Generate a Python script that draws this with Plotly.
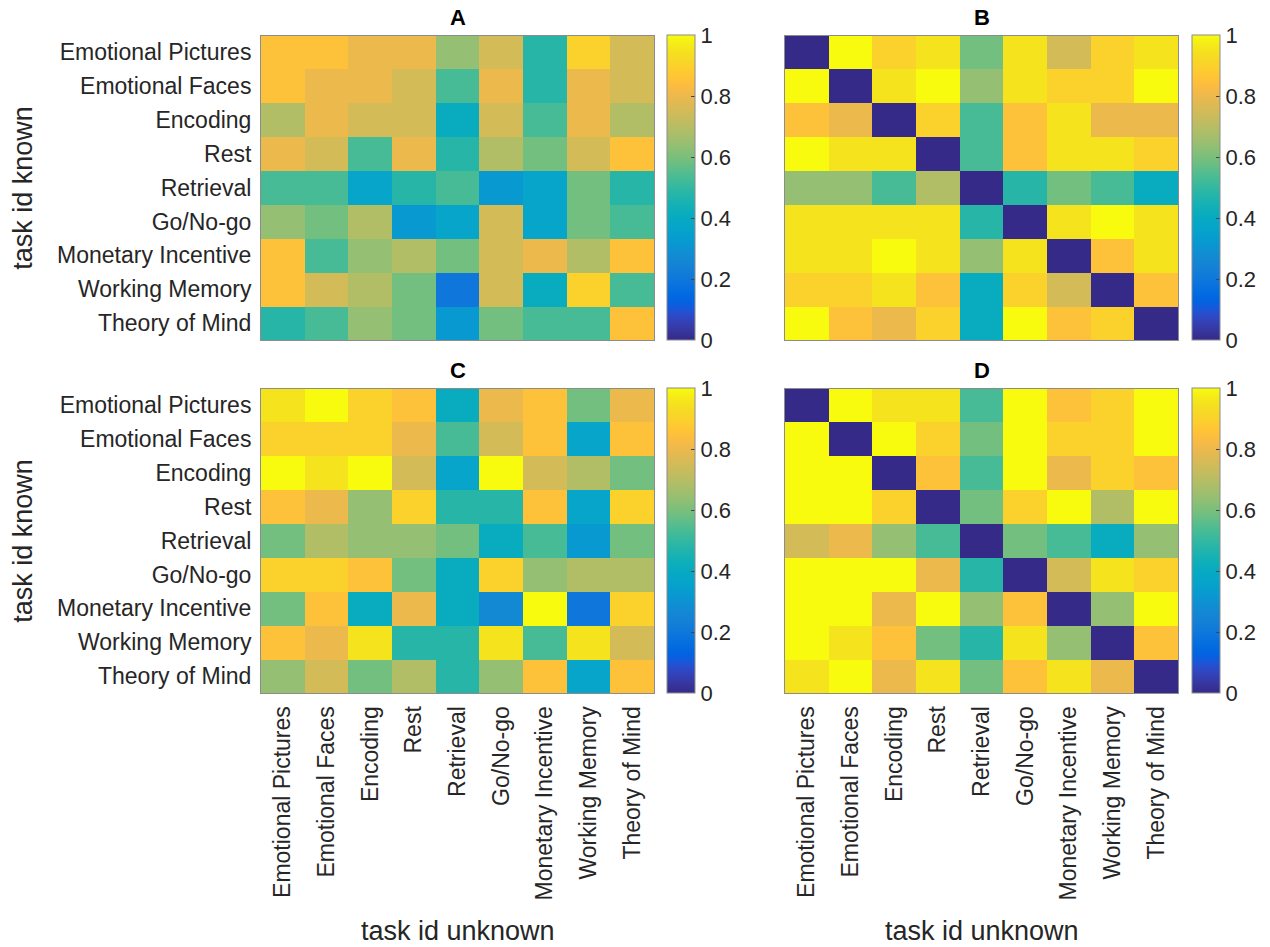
import plotly.graph_objects as go

tasks = ["Emotional Pictures", "Emotional Faces", "Encoding", "Rest", "Retrieval",
         "Go/No-go", "Monetary Incentive", "Working Memory", "Theory of Mind"]

# rows: task id known (top to bottom), columns: task id unknown (left to right)
panel_A = [
    [0.85, 0.85, 0.80, 0.80, 0.64, 0.75, 0.48, 0.90, 0.75],
    [0.85, 0.80, 0.80, 0.75, 0.53, 0.80, 0.48, 0.80, 0.75],
    [0.69, 0.80, 0.75, 0.75, 0.41, 0.75, 0.53, 0.80, 0.69],
    [0.80, 0.75, 0.53, 0.80, 0.48, 0.69, 0.59, 0.75, 0.85],
    [0.53, 0.53, 0.37, 0.48, 0.53, 0.32, 0.37, 0.59, 0.48],
    [0.64, 0.59, 0.69, 0.32, 0.37, 0.75, 0.37, 0.59, 0.53],
    [0.85, 0.53, 0.64, 0.69, 0.59, 0.75, 0.80, 0.69, 0.85],
    [0.85, 0.75, 0.69, 0.59, 0.20, 0.75, 0.41, 0.90, 0.53],
    [0.48, 0.53, 0.64, 0.59, 0.32, 0.59, 0.53, 0.53, 0.85],
]
panel_B = [
    [0.00, 1.00, 0.90, 0.95, 0.59, 0.95, 0.75, 0.90, 0.95],
    [1.00, 0.00, 0.95, 1.00, 0.64, 0.95, 0.90, 0.90, 1.00],
    [0.85, 0.80, 0.00, 0.90, 0.53, 0.85, 0.95, 0.80, 0.80],
    [1.00, 0.95, 0.95, 0.00, 0.53, 0.85, 0.95, 0.95, 0.90],
    [0.64, 0.64, 0.53, 0.69, 0.00, 0.48, 0.59, 0.53, 0.41],
    [0.95, 0.95, 0.95, 0.95, 0.48, 0.00, 0.95, 1.00, 0.95],
    [0.95, 0.95, 1.00, 0.95, 0.64, 0.95, 0.00, 0.85, 0.95],
    [0.90, 0.90, 0.95, 0.85, 0.41, 0.90, 0.75, 0.00, 0.85],
    [1.00, 0.85, 0.80, 0.90, 0.41, 1.00, 0.85, 0.90, 0.00],
]
panel_C = [
    [0.95, 1.00, 0.90, 0.85, 0.41, 0.80, 0.85, 0.59, 0.80],
    [0.90, 0.90, 0.90, 0.80, 0.53, 0.75, 0.85, 0.37, 0.85],
    [1.00, 0.95, 1.00, 0.75, 0.37, 1.00, 0.75, 0.69, 0.59],
    [0.85, 0.80, 0.64, 0.90, 0.48, 0.48, 0.85, 0.37, 0.90],
    [0.59, 0.69, 0.64, 0.64, 0.59, 0.41, 0.53, 0.32, 0.59],
    [0.90, 0.90, 0.85, 0.59, 0.41, 0.90, 0.64, 0.69, 0.69],
    [0.59, 0.85, 0.41, 0.80, 0.41, 0.27, 1.00, 0.20, 0.90],
    [0.85, 0.80, 0.95, 0.48, 0.48, 0.95, 0.53, 0.95, 0.75],
    [0.64, 0.75, 0.59, 0.69, 0.48, 0.64, 0.85, 0.37, 0.85],
]
panel_D = [
    [0.00, 1.00, 0.95, 0.95, 0.53, 1.00, 0.85, 0.90, 1.00],
    [1.00, 0.00, 1.00, 0.90, 0.59, 1.00, 0.90, 0.90, 1.00],
    [1.00, 1.00, 0.00, 0.85, 0.53, 1.00, 0.80, 0.90, 0.85],
    [1.00, 1.00, 0.90, 0.00, 0.59, 0.90, 1.00, 0.69, 1.00],
    [0.75, 0.80, 0.64, 0.53, 0.00, 0.59, 0.53, 0.41, 0.64],
    [1.00, 1.00, 1.00, 0.80, 0.48, 0.00, 0.75, 0.95, 0.90],
    [1.00, 1.00, 0.80, 1.00, 0.64, 0.85, 0.00, 0.64, 1.00],
    [1.00, 0.95, 0.85, 0.59, 0.48, 0.95, 0.64, 0.00, 0.85],
    [0.95, 1.00, 0.80, 0.95, 0.59, 0.85, 0.95, 0.80, 0.00],
]
panel_titles = ["A", "B", "C", "D"]
cbar_ticks = [0, 0.2, 0.4, 0.6, 0.8, 1]
cbar_ticktext = ["0", "0.2", "0.4", "0.6", "0.8", "1"]

parula_rgb = [
    (0.2081, 0.1663, 0.5292), (0.2116, 0.1898, 0.5777), (0.2123, 0.2138, 0.6270), (0.2081, 0.2386, 0.6771),
    (0.1959, 0.2645, 0.7279), (0.1707, 0.2919, 0.7792), (0.1253, 0.3242, 0.8303), (0.0591, 0.3598, 0.8683),
    (0.0117, 0.3875, 0.8820), (0.0060, 0.4086, 0.8828), (0.0165, 0.4266, 0.8786), (0.0329, 0.4430, 0.8720),
    (0.0498, 0.4586, 0.8641), (0.0629, 0.4737, 0.8554), (0.0723, 0.4887, 0.8467), (0.0779, 0.5040, 0.8384),
    (0.0793, 0.5200, 0.8312), (0.0749, 0.5375, 0.8263), (0.0641, 0.5570, 0.8240), (0.0488, 0.5772, 0.8228),
    (0.0343, 0.5966, 0.8199), (0.0265, 0.6137, 0.8135), (0.0239, 0.6287, 0.8038), (0.0231, 0.6418, 0.7913),
    (0.0228, 0.6535, 0.7768), (0.0267, 0.6642, 0.7607), (0.0384, 0.6743, 0.7436), (0.0590, 0.6838, 0.7254),
    (0.0843, 0.6928, 0.7062), (0.1133, 0.7015, 0.6859), (0.1453, 0.7098, 0.6646), (0.1801, 0.7177, 0.6424),
    (0.2178, 0.7250, 0.6193), (0.2586, 0.7317, 0.5954), (0.3022, 0.7376, 0.5712), (0.3482, 0.7424, 0.5473),
    (0.3953, 0.7459, 0.5244), (0.4420, 0.7481, 0.5033), (0.4871, 0.7491, 0.4840), (0.5300, 0.7491, 0.4661),
    (0.5709, 0.7485, 0.4494), (0.6099, 0.7473, 0.4337), (0.6473, 0.7456, 0.4188), (0.6834, 0.7435, 0.4044),
    (0.7184, 0.7411, 0.3905), (0.7525, 0.7384, 0.3768), (0.7858, 0.7356, 0.3633), (0.8185, 0.7327, 0.3498),
    (0.8507, 0.7299, 0.3360), (0.8824, 0.7274, 0.3217), (0.9139, 0.7258, 0.3063), (0.9450, 0.7261, 0.2886),
    (0.9739, 0.7314, 0.2666), (0.9938, 0.7455, 0.2403), (0.9990, 0.7653, 0.2164), (0.9955, 0.7861, 0.1967),
    (0.9880, 0.8066, 0.1794), (0.9789, 0.8271, 0.1633), (0.9697, 0.8481, 0.1475), (0.9626, 0.8705, 0.1309),
    (0.9589, 0.8949, 0.1132), (0.9598, 0.9218, 0.0948), (0.9661, 0.9514, 0.0755), (0.9763, 0.9831, 0.0538),
]
n = len(parula_rgb)
parula = [[i / (n - 1), "rgb(%d,%d,%d)" % tuple(round(c * 255) for c in rgb)] for i, rgb in enumerate(parula_rgb)]

W, H = 1270, 947
FONT = "Liberation Sans, Arial, Helvetica, sans-serif"
TXT = "#262626"

# pixel geometry
x_left = [261, 785]
x_right = [654, 1178]
y_top = [35.5, 388.5]
y_bot = [340, 693]
cb_left = [667.5, 1191.5]

fig = go.Figure()
panels = [panel_A, panel_B, panel_C, panel_D]
for k, z in enumerate(panels):
    r, c = divmod(k, 2)
    ax = "" if k == 0 else str(k + 1)
    fig.add_trace(go.Heatmap(
        z=z, x=tasks, y=tasks, zmin=0, zmax=1, colorscale=parula,
        xaxis="x" + ax, yaxis="y" + ax, hoverongaps=False,
        colorbar=dict(
            x=cb_left[c] / W, xanchor="left", xref="paper",
            y=1 - (y_top[r] + y_bot[r]) / 2 / H, yanchor="middle",
            len=(y_bot[r] - y_top[r]) / H, lenmode="fraction",
            thickness=28, thicknessmode="pixels", xpad=0, ypad=0,
            outlinewidth=1, outlinecolor="#8c8c8c",
            ticks="inside", ticklen=4, tickcolor="#444444",
            tickvals=cbar_ticks, ticktext=cbar_ticktext,
            tickfont=dict(family=FONT, size=22, color=TXT),
        ),
    ))
    xdom = [x_left[c] / W, x_right[c] / W]
    ydom = [1 - y_bot[r] / H, 1 - y_top[r] / H]
    fig.layout["xaxis" + ax] = dict(
        domain=xdom, anchor="y" + ax, showgrid=False, zeroline=False,
        showline=True, mirror=True, linecolor="#8c8c8c", linewidth=1,
        ticks="", showticklabels=(r == 1), tickangle=-90,
        tickfont=dict(family=FONT, size=23, color=TXT), ticklabelstandoff=3,
    )
    fig.layout["yaxis" + ax] = dict(
        domain=ydom, anchor="x" + ax, showgrid=False, zeroline=False,
        autorange="reversed",
        showline=True, mirror=True, linecolor="#8c8c8c", linewidth=1,
        ticks="", showticklabels=(c == 0),
        tickfont=dict(family=FONT, size=23, color=TXT), ticklabelstandoff=4,
    )
    fig.add_annotation(
        text="<b>%s</b>" % panel_titles[k], x=(x_left[c] + x_right[c]) / 2 / W,
        y=1 - (y_top[r] - 18) / H, xref="paper", yref="paper",
        xanchor="center", yanchor="middle", showarrow=False,
        font=dict(family=FONT, size=22, color="black"),
    )
    if c == 0:
        fig.add_annotation(
            text="task id known", x=23 / W, y=1 - (y_top[r] + y_bot[r]) / 2 / H,
            xref="paper", yref="paper", xanchor="center", yanchor="middle",
            textangle=-90, showarrow=False,
            font=dict(family=FONT, size=27, color=TXT),
        )
    if r == 1:
        fig.add_annotation(
            text="task id unknown", x=(x_left[c] + x_right[c]) / 2 / W, y=1 - 931 / H,
            xref="paper", yref="paper", xanchor="center", yanchor="middle",
            showarrow=False, font=dict(family=FONT, size=27, color=TXT),
        )

fig.update_layout(
    width=W, height=H, margin=dict(l=0, r=0, t=0, b=0),
    paper_bgcolor="white", plot_bgcolor="white", showlegend=False,
)
fig.write_html("out.html")
